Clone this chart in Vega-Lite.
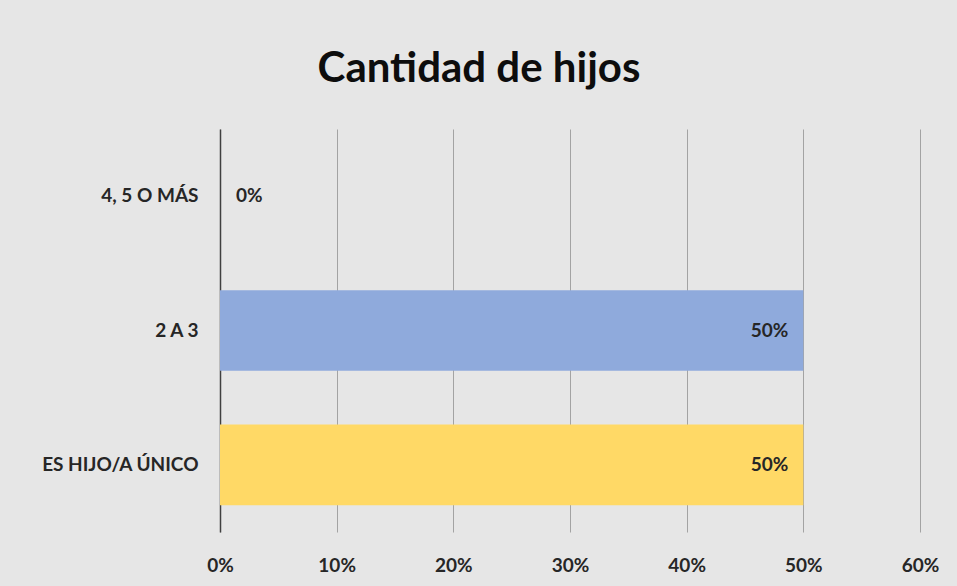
{
  "$schema": "https://vega.github.io/schema/vega-lite/v6.json",
  "autosize": {"type": "none"},
  "width": 700,
  "height": 403,
  "padding": {"left": 220, "top": 129, "right": 37, "bottom": 54},
  "background": "#e6e6e6",
  "title": {
    "text": "Cantidad de hijos",
    "font": "Lato",
    "fontSize": 42,
    "fontWeight": "bold",
    "color": "#0d0d0d",
    "anchor": "middle",
    "dx": -91,
    "offset": 38
  },
  "config": {
    "view": {"stroke": null},
    "font": "Lato"
  },
  "data": {
    "values": [
      {"categoria": "4, 5 O MÁS", "valor": 0},
      {"categoria": "2 A 3", "valor": 0.5},
      {"categoria": "ES HIJO/A ÚNICO", "valor": 0.5}
    ]
  },
  "encoding": {
    "y": {
      "field": "categoria",
      "type": "nominal",
      "sort": ["4, 5 O MÁS", "2 A 3", "ES HIJO/A ÚNICO"],
      "scale": {"paddingInner": 0.4, "paddingOuter": 0.2},
      "axis": {
        "title": null,
        "domain": true,
        "domainColor": "#404040",
        "domainWidth": 1.5,
        "ticks": false,
        "labelPadding": 22,
        "labelFont": "Lato",
        "labelFontSize": 19,
        "labelFontWeight": "bold",
        "labelColor": "#262626"
      }
    },
    "x": {
      "field": "valor",
      "type": "quantitative",
      "scale": {"domain": [0, 0.6], "nice": false},
      "axis": {
        "title": null,
        "format": ".0%",
        "values": [0, 0.1, 0.2, 0.3, 0.4, 0.5, 0.6],
        "labelOverlap": false,
        "labelFlush": false,
        "domain": false,
        "ticks": false,
        "grid": true,
        "gridColor": "#a3a3a3",
        "gridWidth": 1,
        "labelPadding": 24,
        "labelFont": "Lato",
        "labelFontSize": 19,
        "labelFontWeight": "bold",
        "labelColor": "#262626"
      }
    }
  },
  "layer": [
    {
      "mark": {"type": "bar"},
      "encoding": {
        "color": {
          "field": "categoria",
          "type": "nominal",
          "scale": {
            "domain": ["4, 5 O MÁS", "2 A 3", "ES HIJO/A ÚNICO"],
            "range": ["#a5a5a5", "#8faadc", "#ffd966"]
          },
          "legend": null
        }
      }
    },
    {
      "transform": [{"filter": "datum.valor > 0"}],
      "mark": {"type": "text", "align": "right", "dx": -15, "font": "Lato", "fontSize": 19, "fontWeight": "bold", "color": "#262626"},
      "encoding": {
        "text": {"field": "valor", "type": "quantitative", "format": ".0%"}
      }
    },
    {
      "transform": [{"filter": "datum.valor <= 0"}],
      "mark": {"type": "text", "align": "left", "dx": 16, "font": "Lato", "fontSize": 19, "fontWeight": "bold", "color": "#262626"},
      "encoding": {
        "text": {"field": "valor", "type": "quantitative", "format": ".0%"}
      }
    }
  ]
}
